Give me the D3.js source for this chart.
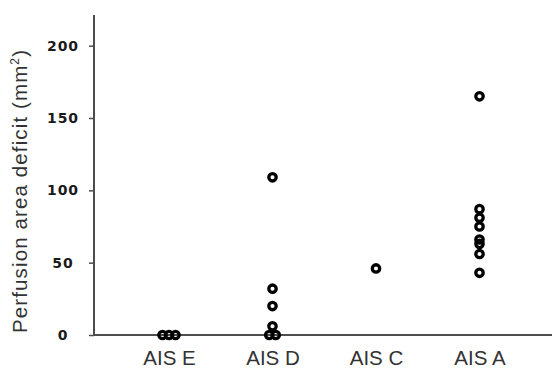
<!DOCTYPE html>
<html>
<head>
<meta charset="utf-8">
<script src="https://cdn.jsdelivr.net/npm/d3@7"></script>
<style>
  html, body { margin: 0; padding: 0; background: #fff; }
  svg { display: block; }
</style>
</head>
<body>
<svg id="chart" width="552" height="368"></svg>
<script>
// Injury grade groups along the x axis
const categories = ["AIS E", "AIS D", "AIS C", "AIS A"];

// Perfusion area deficit (mm²) per subject, by group
const valuesE = [0, 0, 0];
const valuesD = [109, 32, 20, 6, 0, 0];
const valuesC = [46];
const valuesA = [165, 87, 81, 75, 66, 63, 56, 43];

const yTicks = [0, 50, 100, 150, 200];

const groups = [valuesE, valuesD, valuesC, valuesA];

const svg = d3.select("#chart");
const W = 552, H = 368;
const axisX = 94, axisY = 335, topY = 15;

const x = d3.scalePoint().domain(categories).range([169, 479.5]);
const y = d3.scaleLinear().domain([0, 221.2]).range([axisY, topY]);

const axisColor = "#4d4d4d";

// Axis lines
svg.append("line")
  .attr("x1", axisX).attr("x2", axisX)
  .attr("y1", topY).attr("y2", axisY + 1)
  .attr("stroke", axisColor).attr("stroke-width", 2);
svg.append("line")
  .attr("x1", axisX - 1).attr("x2", W)
  .attr("y1", axisY).attr("y2", axisY)
  .attr("stroke", axisColor).attr("stroke-width", 2);

// Y axis ticks and labels
const yAxis = d3.axisLeft(y).tickValues(yTicks).tickSize(5).tickSizeOuter(0);
const gy = svg.append("g").attr("transform", `translate(${axisX},0)`).call(yAxis);
gy.select(".domain").remove();
gy.selectAll(".tick line").attr("stroke", axisColor).attr("stroke-width", 1.5);
gy.selectAll(".tick text")
  .attr("x", -31)
  .attr("text-anchor", "middle")
  .attr("fill", "#1a1a1a")
  .style("font-family", "'DejaVu Sans', sans-serif")
  .style("font-weight", "bold")
  .style("font-size", "14px")
  .style("letter-spacing", "1px");

// X axis category labels
const gx = svg.append("g").attr("transform", `translate(0,${axisY})`)
  .call(d3.axisBottom(x).tickSize(0));
gx.select(".domain").remove();
gx.selectAll(".tick text")
  .attr("y", 15)
  .attr("dy", "0.71em")
  .attr("fill", "#333")
  .style("font-family", "'Liberation Sans', Arial, sans-serif")
  .style("font-size", "20.5px");

// Y axis title
svg.append("text")
  .attr("transform", `translate(27,191.5) rotate(-90)`)
  .attr("text-anchor", "middle")
  .attr("fill", "#333")
  .style("font-family", "'Liberation Sans', Arial, sans-serif")
  .style("font-size", "20.5px")
  .attr("textLength", 283)
  .attr("lengthAdjust", "spacing")
  .html('Perfusion area deficit (mm<tspan dy="-8" font-size="12px">2</tspan><tspan dy="8">)</tspan>');

// Points: tied values within a group are spread symmetrically
const spread = 6.5;
const points = [];
groups.forEach((vals, gi) => {
  const counts = d3.rollup(vals, v => v.length, d => d);
  const seen = new Map();
  vals.forEach(v => {
    const k = counts.get(v);
    const i = seen.get(v) || 0;
    seen.set(v, i + 1);
    points.push({ cat: categories[gi], value: v, dx: (i - (k - 1) / 2) * spread });
  });
});

svg.append("g").selectAll("circle")
  .data(points)
  .join("circle")
  .attr("cx", d => x(d.cat) + d.dx)
  .attr("cy", d => y(d.value))
  .attr("r", 3.7)
  .attr("fill", "none")
  .attr("stroke", "#000")
  .attr("stroke-width", 3.3);
</script>
</body>
</html>
